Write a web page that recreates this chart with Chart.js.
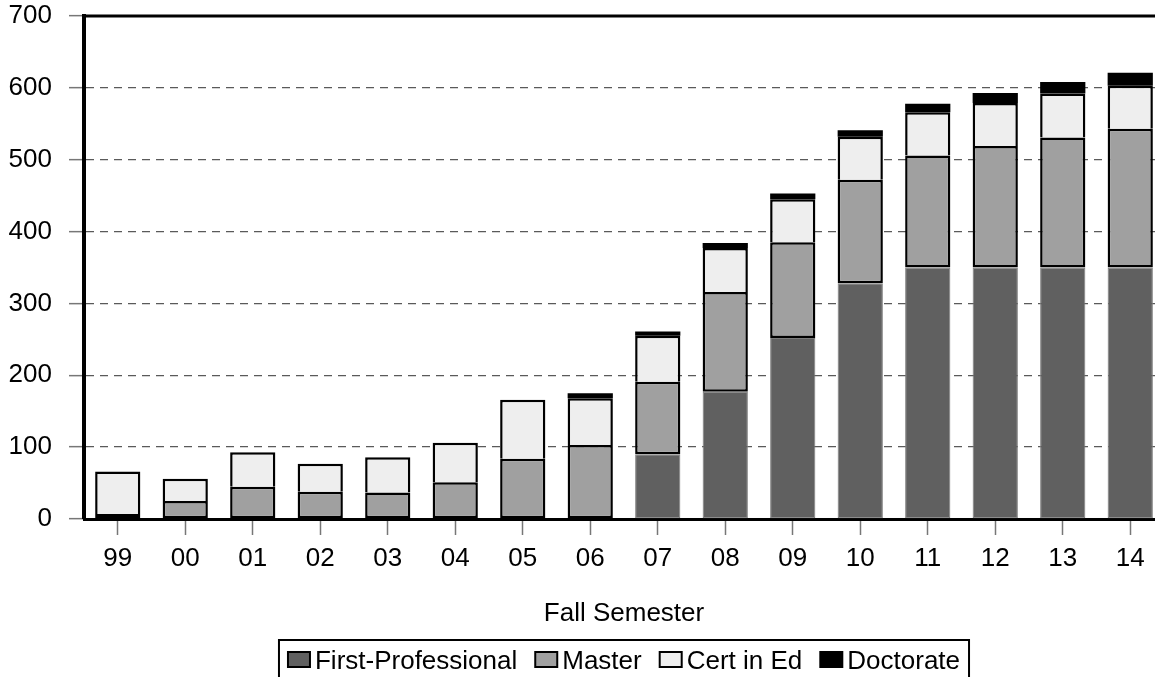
<!DOCTYPE html>
<html>
<head>
<meta charset="utf-8">
<script src="https://cdn.jsdelivr.net/npm/chart.js@4.4.1/dist/chart.umd.min.js"></script>
<style>
	html, body { margin: 0; padding: 0; background: #fff; overflow: hidden; }
	#wrap { width: 1164px; height: 677px; position: relative; }
</style>
</head>
<body>
<div id="wrap"><canvas id="enrollment"></canvas></div>
<script>
	// fall semester enrollment, stacked by program
	var semesters = ['99', '00', '01', '02', '03', '04', '05', '06', '07', '08', '09', '10', '11', '12', '13', '14'];
	var firstProfessional = [0, 0, 0, 0, 0, 0, 0, 0, 90, 177, 252, 328, 350, 350, 350, 350];
	var master = [7, 25, 45, 38, 37, 51, 84, 103, 101, 139, 133, 144, 156, 169, 181, 193];
	var certInEd = [59, 31, 48, 39, 49, 55, 82, 65, 64, 61, 60, 60, 60, 60, 61, 60];
	var doctorate = [0, 0, 0, 0, 0, 0, 0, 7, 6, 7, 8, 9, 12, 14, 16, 18];
	var yTicks = [0, 100, 200, 300, 400, 500, 600, 700];

	var FONT = '"Liberation Sans", Arial, sans-serif';

	function getData(label, data, fill, border, width, skipped){
		return {
			label: label,
			data: data,
			backgroundColor: fill,
			borderColor: border,
			borderWidth: width,
			borderSkipped: skipped,
			categoryPercentage: 1.0,
			barPercentage: 0.67
		};
	}

	// legend with a frame + the solid line on top of the plot
	var frameAndLegend = {
		id: 'frameAndLegend',
		afterDraw: function(chart){
			var ctx = chart.ctx;
			var area = chart.chartArea;
			var yScale = chart.scales.y;
			var sets = chart.data.datasets;

			ctx.save();
			var topY = yScale.getPixelForValue(yTicks[yTicks.length - 1]);
			ctx.strokeStyle = '#000';
			ctx.lineWidth = 3;
			ctx.beginPath();
			ctx.moveTo(area.left, topY);
			ctx.lineTo(chart.width, topY);
			ctx.stroke();

			ctx.font = '26px ' + FONT;
			ctx.textBaseline = 'alphabetic';
			var swW = 22, swH = 15, gap = 5, space = 18, pad = 9;
			var total = 0;
			for(var i = 0; i < sets.length; i++){
				total += swW + gap + ctx.measureText(sets[i].label).width;
				if(i > 0) total += space;
			}
			var x = (area.left + area.right) / 2 - total / 2;
			var boxTop = 640, base = 669;

			ctx.lineWidth = 2;
			ctx.strokeRect(x - pad, boxTop, total + pad * 2, 80);

			for(var j = 0; j < sets.length; j++){
				ctx.fillStyle = sets[j].backgroundColor;
				ctx.fillRect(x, base - 17, swW, swH);
				ctx.lineWidth = 2;
				ctx.strokeStyle = '#000';
				ctx.strokeRect(x, base - 17, swW, swH);
				ctx.fillStyle = '#000';
				ctx.fillText(sets[j].label, x + swW + gap, base);
				x += swW + gap + ctx.measureText(sets[j].label).width + space;
			}
			ctx.restore();
		}
	};

	var ctx = document.getElementById('enrollment');
	var chart = new Chart(ctx, {
		type: 'bar',
		data: {
			labels: semesters,
			datasets: [
				getData('First-Professional', firstProfessional, '#606060', '#7c7c7c', 1, false),
				getData('Master', master, '#a0a0a0', '#000', 2.5, false),
				getData('Cert in Ed', certInEd, '#eeeeee', '#000', 2.5, 'start'),
				getData('Doctorate', doctorate, '#000', '#000', 0, 'start')
			]
		},
		options: {
			responsive: true,
			maintainAspectRatio: false,
			animation: false,
			layout: { padding: { left: 8, top: 16, right: 0, bottom: 0 } },
			plugins: {
				legend: { display: false },
				tooltip: { enabled: false }
			},
			scales: {
				x: {
					stacked: true,
					afterFit: function(scale){
						scale.height = 158;
						scale.paddingLeft = 0;
						scale.paddingRight = 0;
					},
					grid: {
						offset: false,
						drawOnChartArea: false,
						drawTicks: true,
						tickLength: 16,
						tickColor: '#777',
						tickWidth: 1.5
					},
					border: { display: true, color: '#000', width: 3 },
					ticks: {
						color: '#000',
						padding: 8,
						font: { family: FONT, size: 26 }
					},
					title: {
						display: true,
						text: 'Fall Semester',
						color: '#000',
						font: { family: FONT, size: 26 },
						padding: { top: 0, bottom: 48 }
					}
				},
				y: {
					stacked: true,
					min: 0,
					max: 700,
					afterBuildTicks: function(scale){
						scale.ticks = yTicks.map(function(v){ return { value: v }; });
					},
					afterFit: function(scale){
						scale.width = 76;
						scale.paddingTop = 0;
						scale.paddingBottom = 0;
					},
					grid: {
						color: function(c){
							if(c.tick && (c.tick.value === 0 || c.tick.value === 700)) return 'rgba(0,0,0,0)';
							return '#5a5a5a';
						},
						lineWidth: 1.3,
						tickLength: 15,
						tickColor: '#777',
						tickWidth: 1.5
					},
					border: { display: true, color: '#000', width: 4, dash: [8, 6] },
					ticks: {
						color: '#000',
						padding: 17,
						font: { family: FONT, size: 26 }
					}
				}
			}
		},
		plugins: [frameAndLegend]
	});
</script>
</body>
</html>
